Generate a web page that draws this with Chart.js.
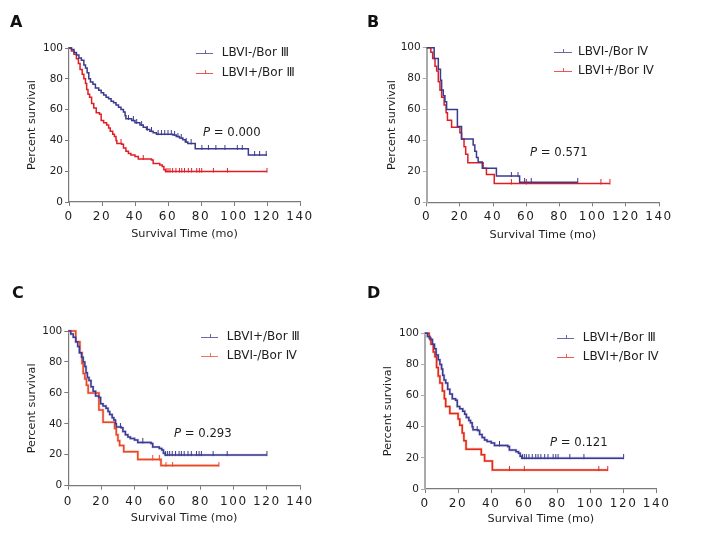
<!DOCTYPE html>
<html><head><meta charset="utf-8">
<script src="https://cdn.jsdelivr.net/npm/chart.js@4/dist/chart.umd.min.js"></script>
<style>
html,body{margin:0;padding:0;background:#fff;}
#wrap{position:relative;width:711px;height:548px;overflow:hidden;background:#fff;}
canvas{position:absolute;}
</style></head><body>
<div id="wrap">
<canvas id="cA" width="355" height="262" style="left:0px;top:0px"></canvas>
<canvas id="cB" width="356" height="262" style="left:355px;top:0px"></canvas>
<canvas id="cC" width="355" height="278" style="left:0px;top:270px"></canvas>
<canvas id="cD" width="356" height="278" style="left:355px;top:270px"></canvas>
</div>
<script>
// ---------- data ----------
const xTicks = [0, 20, 40, 60, 80, 100, 120, 140];
const yTicks = [0, 20, 40, 60, 80, 100];

// LBVI-/Bor III
const s1Time = [1.5,3,4.5,6,7.5,9,10,11,12,13,14.5,16,18,19.5,21,22.5,24,25.5,27,28.5,30,31.5,33,34,34.5,38,40,43,45,47,49,51,53,63,65,67,69,70.5,72,76.5,108.7];
const s1Surv = [99,97,95.5,93.5,92,89,87,84,80,78,76.5,74,72.5,71,69.5,68,67,65.5,64.5,63,61.5,60,58.5,56,54,53,51.5,50,48.5,47,46,45,44,43.5,42.5,41.5,40.5,39,38,34.5,30.5];
const s1Censor = [36,39,41,44,47.5,50,54,56,58,60,62,64,66,68,71,74,80.5,84.5,89,94.5,102,105,112.5,115.5,119.5];
const s1End = 120;

// LBVI+/Bor III
const s2Time = [1.5,3,4.5,5.7,6.7,8,9,10,10.7,11.5,12.5,13.7,15,16.5,18.5,19.5,21,22.8,24,25,26.5,27.5,28.5,29,32,33,34.5,36,37.5,40,42,50,51,55,56.5,57.5,58.5];
const s2Surv = [98,96,93,90,86,83,80,77,73,70,68,64,61,58,57,53,51.5,50,48,46,44,42.5,40,38,37.5,35,33,31.5,30.5,29.5,28,27.3,25,24,23,21,19.8];
const s2Censor = [31.5,45,58.8,60,61.2,62.8,64.8,66.9,68.3,70,72.3,74.3,77.4,79,80.4,87.5,96,120];
const s2End = 120;

// LBVI-/Bor IV
const s3Time = [4.5,7,8.3,9,10,11,12,18.5,21,28,29,30,31,33.5,42,56];
const s3Surv = [93,86,79,72.6,69,65,60,49,41,37,33,29,26,22,17,13];
const s3Censor = [51,55,59,63,91];
const s3End = 91;

// LBVI+/Bor IV
const s4Time = [2.5,3.6,5,6,7,8,9,10.5,11.7,12.5,15,20,21,22.5,23.5,24.8,34,36,40.7];
const s4Surv = [97,93,88,85,78,72.5,68,63,58,53,48.5,45,41,36,31,25.6,22,18,12.2];
const s4Censor = [51,60,105,110.4];
const s4End = 110.4;

const pValues = ['0.000', '0.571', '0.293', '0.121'];
const panelLetters = ['A', 'B', 'C', 'D'];

// ---------- helpers ----------
const series = {
  s1: {time: s1Time, surv: s1Surv, censor: s1Censor, end: s1End},
  s2: {time: s2Time, surv: s2Surv, censor: s2Censor, end: s2End},
  s3: {time: s3Time, surv: s3Surv, censor: s3Censor, end: s3End},
  s4: {time: s4Time, surv: s4Surv, censor: s4Censor, end: s4End}
};
function survAt(s, t) {
  let v = 100;
  for (let i = 0; i < s.time.length; i++) if (s.time[i] <= t) v = s.surv[i];
  return v;
}
function buildPoints(key) {
  const s = series[key];
  const pts = [{x: 0, y: 100, c: 0}];
  s.time.forEach((t, i) => pts.push({x: t, y: s.surv[i], c: 0}));
  s.censor.forEach(t => pts.push({x: t, y: survAt(s, t), c: 1}));
  pts.push({x: s.end, y: survAt(s, s.end), c: 0});
  pts.sort((a, b) => (a.x - b.x) || (a.c - b.c));
  return pts;
}
function tickImage(color) {
  const c = document.createElement('canvas');
  c.width = 3; c.height = 8;
  const g = c.getContext('2d');
  g.fillStyle = color;
  g.fillRect(1, 0, 1, 5);
  return c;
}

class SpacedLinear extends Chart.LinearScale {
  static id = 'spacedLinear';
  static defaults = {};
  drawLabels(area) {
    const c = this.ctx;
    c.save();
    c.letterSpacing = '1.6px';
    super.drawLabels(area);
    c.restore();
  }
}
Chart.register(SpacedLinear);

const FAM = '"DejaVu Sans", Verdana, sans-serif';
const TXT = '#1e1e1e';
const BLUE = '#3a3a8e';
const RED = '#e11d24';

const panels = [
  {id: 'cA', w: 355, h: 262, area: [69, 300, 48, 202], idx: 0, letterPos: [10, 27],
   lines: [{key: 's1', label: 'LBVI-/Bor Ⅲ', color: BLUE}, {key: 's2', label: 'LBVI+/Bor Ⅲ', color: RED}],
   pPos: [203, 133.3], leg: {x1: 196, x2: 213, y: [53.3, 72.7], tx: 221.7},
   xTitleOff: 32, xTickOff: 11, yTitleOff: 37, yBorder: ['#7a7a7a', 1.2]},
  {id: 'cB', w: 356, h: 262, area: [71.7, 304, 47.7, 202.3], idx: 1, letterPos: [12, 27],
   lines: [{key: 's3', label: 'LBVI-/Bor Ⅳ', color: BLUE}, {key: 's4', label: 'LBVI+/Bor Ⅳ', color: RED}],
   pPos: [175, 153.3], leg: {x1: 199, x2: 217, y: [52.3, 71], tx: 223},
   xTitleOff: 32.7, xTickOff: 11, yTitleOff: 35, yBorder: ['#aaaaaa', 2]},
  {id: 'cC', w: 355, h: 278, area: [68.3, 300, 61, 215.7], idx: 2, letterPos: [12, 28],
   lines: [{key: 's2', label: 'LBVI+/Bor Ⅲ', color: BLUE, halo: '#d2cef0'}, {key: 's3', label: 'LBVI-/Bor Ⅳ', color: '#e8472c', halo: '#fbc9ae'}],
   pPos: [174, 164.3], leg: {x1: 201, x2: 218, y: [66.7, 86], tx: 226.7},
   xTitleOff: 32.6, xTickOff: 13, yTitleOff: 36.3, yBorder: ['#7a7a7a', 1.2]},
  {id: 'cD', w: 356, h: 278, area: [70, 301.7, 63.3, 219], idx: 3, letterPos: [12, 28],
   lines: [{key: 's2', label: 'LBVI+/Bor Ⅲ', color: BLUE, halo: '#d2cef0'}, {key: 's4', label: 'LBVI+/Bor Ⅳ', color: '#e3261f', halo: '#fbc5a8'}],
   pPos: [195, 172.7], leg: {x1: 202, x2: 219, y: [68.3, 86.7], tx: 227.7},
   xTitleOff: 30.3, xTickOff: 11, yTitleOff: 37, yBorder: ['#aaaaaa', 2]}
];

function decorPlugin(p) {
  return {
    id: 'decor' + p.idx,
    afterDraw(chart) {
      const ctx = chart.ctx;
      ctx.save();
      ctx.fillStyle = '#111';
      ctx.textAlign = 'left';
      ctx.textBaseline = 'alphabetic';
      ctx.font = 'bold 16px ' + FAM;
      ctx.fillText(panelLetters[p.idx], p.letterPos[0], p.letterPos[1]);
      // legend
      ctx.font = '12px ' + FAM;
      ctx.textBaseline = 'middle';
      p.lines.forEach((l, i) => {
        const y = Math.round(p.leg.y[i]) + 0.5;
        ctx.strokeStyle = l.color;
        ctx.globalAlpha = 0.75;
        ctx.lineWidth = 1;
        ctx.beginPath();
        ctx.moveTo(p.leg.x1, y); ctx.lineTo(p.leg.x2, y);
        const mx = Math.round((p.leg.x1 + p.leg.x2) / 2) + 0.5;
        ctx.moveTo(mx, y - 3.5); ctx.lineTo(mx, y);
        ctx.stroke();
        ctx.globalAlpha = 1;
        ctx.fillStyle = TXT;
        ctx.fillText(l.label, p.leg.tx, p.leg.y[i]);
      });
      // p value
      ctx.fillStyle = TXT;
      ctx.font = 'italic 11.7px ' + FAM;
      ctx.fillText('P', p.pPos[0], p.pPos[1]);
      const w = ctx.measureText('P').width;
      ctx.font = '11.7px ' + FAM;
      ctx.fillText(' = ' + pValues[p.idx], p.pPos[0] + w, p.pPos[1]);
      ctx.restore();
    }
  };
}

panels.forEach(p => {
  const [L, R, T, B] = p.area;
  const XH = 46;
  const datasets = [];
  p.lines.forEach((l, i) => {
    datasets.push({
      label: l.label,
      data: buildPoints(l.key),
      stepped: 'before',
      borderColor: l.color,
      borderWidth: 1.5,
      backgroundColor: l.color,
      fill: false,
      clip: false,
      order: i,
      pointStyle: tickImage(l.color),
      pointRadius: c => (c.raw && c.raw.c ? 2.5 : 0),
      pointHoverRadius: 0
    });
    if (l.halo) {
      datasets.push({
        label: l.label + ' ',
        data: buildPoints(l.key),
        stepped: 'before',
        borderColor: l.halo,
        borderWidth: 2.6,
        fill: false,
        clip: false,
        order: 10 + i,
        pointRadius: 0,
        pointHoverRadius: 0
      });
    }
  });
  const tickFontX = 12, titleFont = 11.25;
  new Chart(document.getElementById(p.id), {
    type: 'line',
    data: {datasets},
    plugins: [decorPlugin(p)],
    options: {
      responsive: false,
      maintainAspectRatio: false,
      animation: false,
      events: [],
      devicePixelRatio: 1,
      layout: {padding: {left: 0, top: T, right: p.w - R, bottom: p.h - B - XH}},
      plugins: {legend: {display: false}, tooltip: {enabled: false}, title: {display: false}},
      scales: {
        x: {
          type: 'spacedLinear', min: 0, max: 140,
          afterBuildTicks: s => { s.ticks = xTicks.map(v => ({value: v})); },
          afterFit: s => { s.height = XH; },
          grid: {display: true, drawOnChartArea: false, drawTicks: true, tickLength: 4, color: '#7a7a7a', lineWidth: 1},
          border: {display: true, color: '#7a7a7a', width: 1.2},
          ticks: {font: {family: FAM, size: tickFontX}, color: TXT, padding: p.xTickOff - 4 - tickFontX * 0.6 + 3.5, maxRotation: 0, autoSkip: false},
          title: {display: true, text: 'Survival Time (mo)', color: TXT, font: {family: FAM, size: titleFont},
                  padding: {top: 0, bottom: XH - titleFont * 0.6 - p.xTitleOff}}
        },
        y: {
          min: 0, max: 100,
          afterBuildTicks: s => { s.ticks = yTicks.map(v => ({value: v})); },
          afterFit: s => { s.width = L; },
          grid: {display: true, drawOnChartArea: false, drawTicks: true, tickLength: 4, color: p.yBorder[0], lineWidth: 1},
          border: {display: true, color: p.yBorder[0], width: p.yBorder[1]},
          ticks: {font: {family: FAM, size: 10.5}, color: TXT, padding: 2},
          title: {display: true, text: 'Percent survival', color: TXT, font: {family: FAM, size: titleFont},
                  padding: {top: L - p.yTitleOff - titleFont * 0.6, bottom: 0}}
        }
      }
    }
  });
});
</script>
</body></html>
